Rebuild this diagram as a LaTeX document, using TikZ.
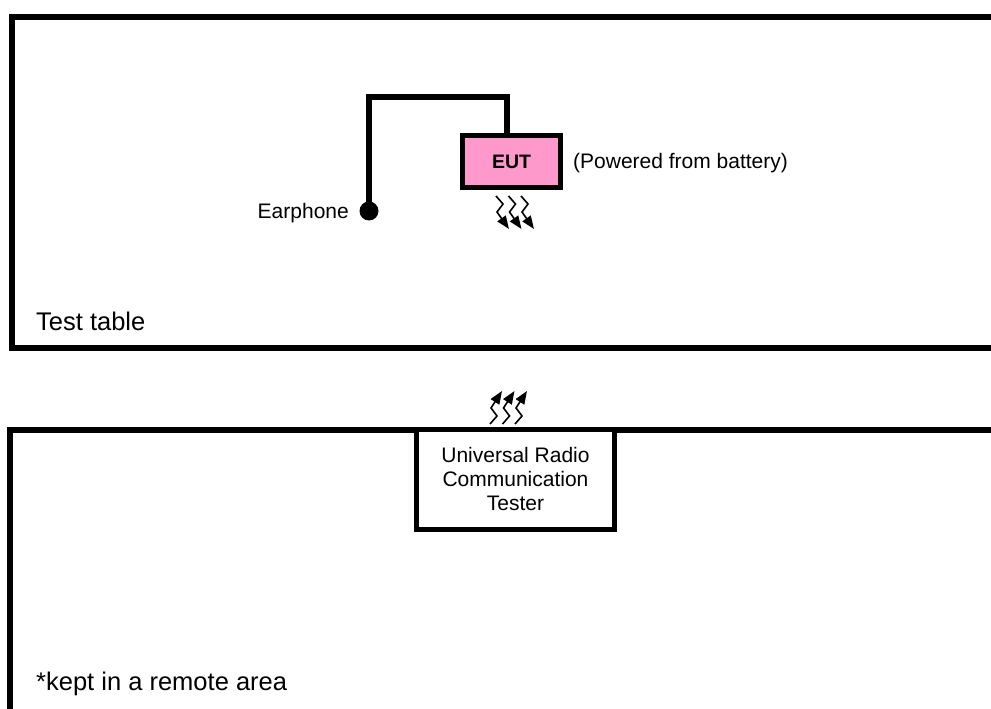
\documentclass[tikz,border=0pt]{standalone}
\usepackage{fontspec}
\setmainfont{Liberation Sans}
\usetikzlibrary{arrows.meta}
\definecolor{eutpink}{HTML}{FF99CC}
\begin{document}
\begin{tikzpicture}[x=1pt,y=-1pt,line join=miter,
 frame/.style={line width=6pt},
 box/.style={draw,line width=5pt,inner sep=0pt},
 cable/.style={line width=5.5pt},
 wave/.style={line width=1.6pt,-{Triangle[length=13pt,width=10pt]}},
 lbl/.style={font=\fontsize{21}{24}\selectfont,inner sep=0pt},
 big/.style={font=\fontsize{25.5}{30}\selectfont,inner sep=0pt}]
\useasboundingbox (0,0) rectangle (991,709);
\clip (0,0) rectangle (991,709);
% test table frame and remote area frame
\draw[frame] (1000,17) -- (11.5,17) -- (11.5,348) -- (1000,348);
\draw[frame] (1000,430) -- (10,430) -- (10,720);
% EUT
\node[box, fill=eutpink, minimum width=98pt, minimum height=52pt,
      font=\bfseries\fontsize{19.5}{22}\selectfont] (eut) at (511.5,161.5) {EUT};
% earphone
\node[circle, fill, inner sep=0pt, minimum size=19pt] (dot) at (369,211) {};
\draw[cable] (dot.center) -- (369,97) -| ([xshift=-4.5pt]eut.north);
% tester
\node[box, fill=white, minimum width=198pt, minimum height=100.5pt,
      align=center, font=\fontsize{21}{24}\selectfont] (urct) at (515.5,479.25)
      {Universal Radio\\Communication\\Tester};
% labels
\node[lbl, anchor=base east] (earlbl) at (349,218) {Earphone};
\node[lbl, anchor=base west] (pwr) at (573,168) {(Powered from battery)};
\node[big, anchor=base west] (tt) at (36,330) {Test table};
\node[big, anchor=base west] (remote) at (36,690) {*kept in a remote area};
% radio waves
\foreach \i in {0,1,2}{
  \draw[wave] (496+12.5*\i,196) -- ++(7,8) -- ++(-6,8) -- ++(12,17);
  \draw[wave] (490+12.5*\i,424) -- ++(7,-8) -- ++(-6,-8) -- ++(11,-17);
}
\end{tikzpicture}
\end{document}
